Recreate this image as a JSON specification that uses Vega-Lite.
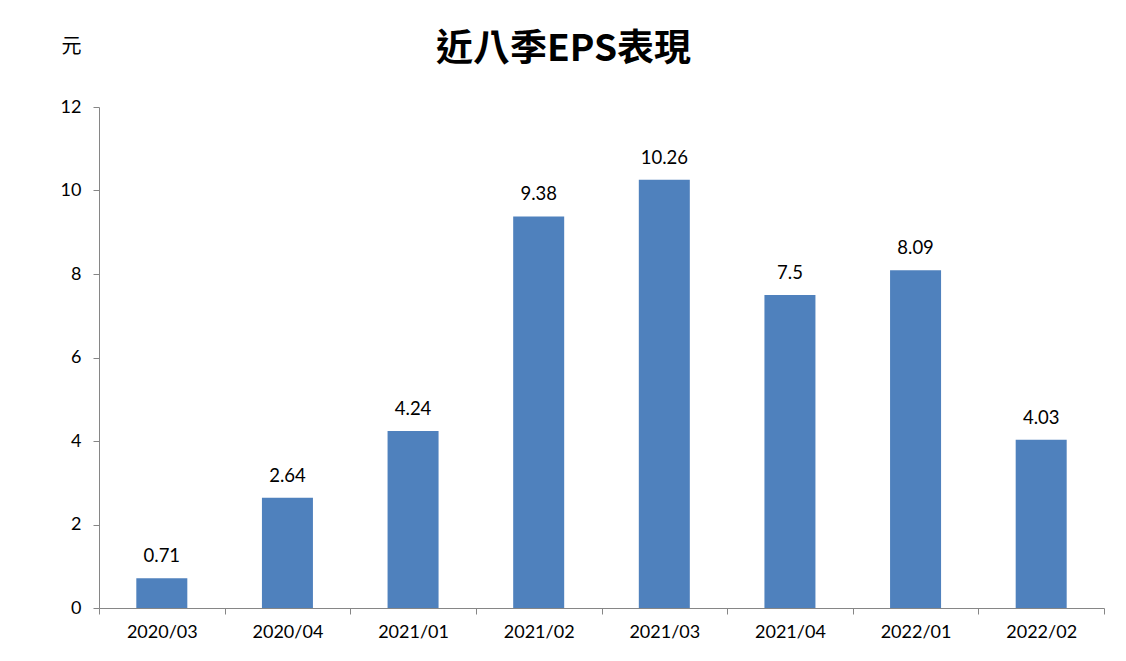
{
  "$schema": "https://vega.github.io/schema/vega-lite/v6.json",
  "width": 1005,
  "height": 501,
  "autosize": {"type": "none"},
  "padding": {"left": 99, "top": 107, "right": 22, "bottom": 53},
  "background": "white",
  "title": {
    "text": "近八季EPS表現",
    "font": "Noto Sans CJK TC",
    "fontSize": 37,
    "fontWeight": "bold",
    "color": "#000000",
    "anchor": "middle",
    "dx": -38,
    "offset": -33
  },
  "config": {"view": {"stroke": null}},
  "data": {
    "values": [
      {"quarter": "2020/03", "eps": 0.71},
      {"quarter": "2020/04", "eps": 2.64},
      {"quarter": "2021/01", "eps": 4.24},
      {"quarter": "2021/02", "eps": 9.38},
      {"quarter": "2021/03", "eps": 10.26},
      {"quarter": "2021/04", "eps": 7.5},
      {"quarter": "2022/01", "eps": 8.09},
      {"quarter": "2022/02", "eps": 4.03}
    ]
  },
  "encoding": {
    "x": {
      "field": "quarter",
      "type": "nominal",
      "sort": null,
      "scale": {"paddingInner": 0, "paddingOuter": 0},
      "axis": {
        "title": null,
        "labelAngle": 0,
        "labelFont": "Lato",
        "labelFontSize": 18,
        "labelColor": "#000000",
        "labelPadding": 9,
        "tickBand": "extent",
        "tickColor": "#868686",
        "tickSize": 6,
        "domainColor": "#868686",
        "grid": false
      }
    },
    "y": {
      "field": "eps",
      "type": "quantitative",
      "scale": {"domain": [0, 12], "nice": false},
      "axis": {
        "values": [0, 2, 4, 6, 8, 10, 12],
        "title": "元",
        "titleAngle": 0,
        "titleFont": "Noto Sans CJK TC",
        "titleFontSize": 20,
        "titleFontWeight": "normal",
        "titleColor": "#000000",
        "titleAlign": "left",
        "titleBaseline": "middle",
        "titleX": -38,
        "titleY": -61,
        "labelFont": "Lato",
        "labelFontSize": 18,
        "labelColor": "#000000",
        "labelPadding": 12,
        "tickColor": "#868686",
        "tickSize": 6,
        "domainColor": "#868686",
        "grid": false
      }
    }
  },
  "layer": [
    {
      "mark": {"type": "bar", "color": "#4F81BD", "width": {"band": 0.406}}
    },
    {
      "mark": {
        "type": "text",
        "baseline": "bottom",
        "dy": -12,
        "font": "Lato",
        "fontSize": 18.5,
        "color": "#000000"
      },
      "encoding": {"text": {"field": "eps", "type": "quantitative"}}
    }
  ]
}
